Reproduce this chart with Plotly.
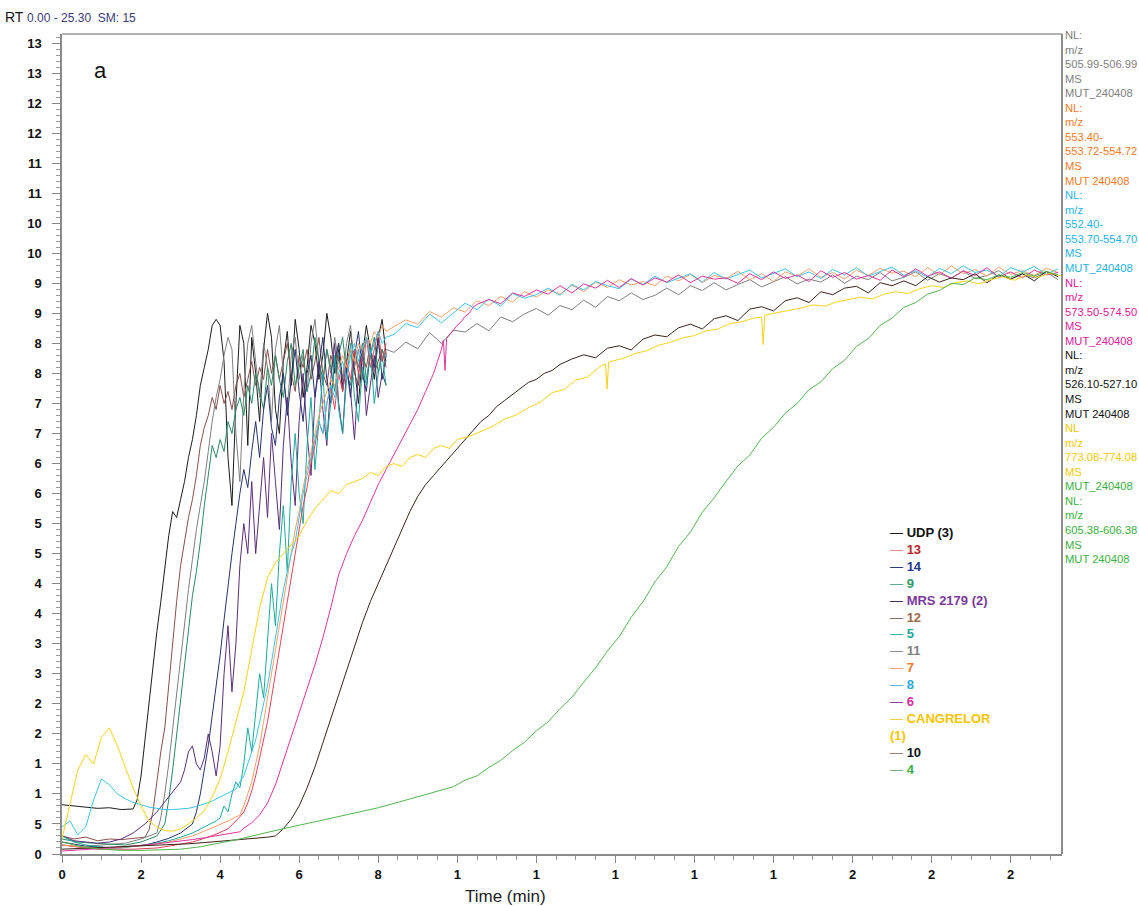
import plotly.graph_objects as go

# ---------------- data ----------------
# each series: list of segments (start_time, time_step, values)
udp_a = [8.2, 8.0, 7.9, 7.6, 7.7, 7.4, 7.5]
udp_b = [9, 13, 19, 26, 31, 37, 42, 48, 53, 57, 56, 59, 62, 66, 69, 73, 78, 81, 84, 88,
         89, 88, 82, 66, 58, 75, 88, 85, 68, 86, 80, 72, 84, 90, 86, 74, 70, 82, 87, 78,
         89, 84, 76, 81, 88, 85, 79, 83, 90, 86, 80, 84, 77, 82, 87, 81, 75, 83, 88, 84,
         79, 86, 89, 83]

c12_a = [3, 2.5, 2.8, 2.2, 2.5, 2.4, 2.6, 2.8]
c12_b = [4, 7, 12, 17, 21, 28, 36, 42, 48, 52, 56, 59, 63, 68, 71, 73, 76, 74, 78, 75,
         77, 74, 78, 80, 76, 79, 82, 78, 81, 79, 84, 80, 83, 79, 82, 85, 80, 77, 83, 81,
         84, 79, 82, 86, 80, 78, 83, 81, 85, 79, 82, 84, 80, 78, 83, 81, 85, 80, 82, 84, 81]

c11_a = [1.5, 1.2, 1.4, 1.6, 1.8, 2.5, 3.5]
c11_b = [6, 10, 15, 21, 27, 32, 38, 44, 49, 54, 58, 62, 67, 72, 76, 79, 83, 86, 84, 70,
         62, 77, 85, 88, 82, 76, 85, 81, 72, 84, 88, 80, 74, 83, 86, 79, 83, 77, 85, 89,
         82, 78, 84, 80, 86, 82, 79, 85, 88, 81, 84, 79, 86, 83, 80, 85, 82, 84]
c11_c = [83.5, 85.2, 84.1, 86.8, 85.0, 87.2, 86.9, 88.3, 87.1, 89.4,
         88.6, 89.9, 90.8, 89.7, 91.3, 90.6, 92.2, 91.0, 92.8, 92.1,
         93.4, 92.3, 93.0, 94.2, 93.1, 94.6, 93.8, 95.1, 93.9, 94.8,
         95.6, 94.4, 95.3, 96.1, 94.9, 95.7, 95.2, 96.4, 95.0, 96.2,
         95.6, 96.8, 95.4, 96.0, 96.9, 95.5, 96.6, 95.9, 97.0, 95.8,
         96.3, 97.1, 95.7, 96.5, 95.9, 96.9, 95.6]

c9_a = [2.5, 2.0, 1.8, 1.6, 1.5, 2.0, 3.0]
c9_b = [5, 9, 14, 20, 26, 32, 38, 43, 47, 52, 58, 63, 68, 66, 69, 67, 72, 70, 74, 76,
        73, 78, 75, 80, 77, 74, 81, 78, 83, 79, 76, 82, 85, 78, 81, 84, 77, 80, 86, 82,
        79, 84, 81, 77, 83, 86, 80, 78, 84, 81, 85, 79, 83, 86, 80, 84, 82]

mrs_a = [3, 2.2, 2.0, 1.8, 2.0, 2.5, 3.5, 5, 7, 9.5, 12]
mrs_b = [14, 17, 18, 15, 14, 16, 20, 17, 13, 18, 30, 38, 27, 35, 48, 55, 50, 62, 50, 58,
         66, 56, 70, 62, 54, 68, 76, 65, 58, 72, 80, 70, 63, 76, 82, 74, 68, 79, 85, 75,
         70, 81, 77, 69, 80, 84, 73, 78, 83, 76, 80, 78]

c14_a = [2.0, 1.6, 1.3, 1.2, 1.0, 1.1, 1.3, 1.5, 2.0, 2.6, 3.5, 5.0]
c14_b = [7, 10, 14, 18, 23, 28, 33, 39, 45, 50, 55, 60, 64, 61, 67, 72, 66, 74, 78, 71,
         68, 76, 80, 73, 79, 84, 77, 72, 80, 83, 76, 81, 86, 79, 75, 82, 85, 78, 81, 76,
         83, 87, 80, 77, 84, 81, 86, 79, 83]

c5_a = [3.0, 2.0, 1.5, 1.2, 1.0, 1.0, 1.2, 1.5, 1.8, 2.2, 2.8, 3.5, 4.5, 5.5]
c5_b = [6, 8, 7, 10, 12, 11, 15, 21, 17, 24, 30, 26, 36, 45, 38, 50, 58, 47, 62, 70,
        60, 55, 68, 76, 64, 72, 80, 69, 75, 83, 74, 70, 79, 85, 76, 72, 81, 78, 84, 75,
        80, 83, 78]

c13_a = [1.5, 1.2, 1.0, 0.8, 0.8, 0.7, 0.8, 0.9, 1.0, 1.3, 1.6, 2.0, 2.6, 3.3, 4.2]
c13_b = [4.8, 5.5, 6.2, 7.0, 8.5, 10.5, 13, 16, 19, 22, 26, 30, 34, 38, 42, 46, 50, 54,
         58, 61, 65, 68, 72, 70, 75, 78, 74, 80, 77, 82, 79, 84, 80, 83, 86, 81, 84, 87,
         82, 85]

c8_a = [4.5, 5.5, 3.2, 4.5, 9, 12.5, 11.5, 10, 9.2, 8.6, 8.2, 7.8, 7.6, 7.4, 7.4, 7.5,
        7.6, 7.9, 8.3, 8.8, 9.5, 10.2]
c8_b = [10.8, 12, 13, 15, 17, 19, 22, 25, 28, 32, 36, 40, 44, 47, 50, 52, 56, 60, 63,
        66, 69, 72, 70, 75, 78, 76, 80, 82, 79, 83, 85, 82, 84, 86, 83, 85, 87, 85, 86]
c8_c = [86.5, 88.3, 87.6, 89.9, 88.4, 90.1, 91.7, 90.6, 92.4, 91.2,
        93.3, 92.5, 93.1, 94.2, 93.0, 94.8, 93.9, 95.3, 94.6, 94.1,
        95.7, 94.8, 96.2, 95.1, 95.9, 96.6, 95.2, 96.8, 95.7, 96.4,
        97.2, 95.9, 96.7, 97.4, 96.1, 96.9, 95.8, 97.3, 96.4, 97.6,
        96.2, 96.9, 97.7, 96.3, 97.1, 96.0, 97.5, 96.6, 97.9, 96.8,
        97.2, 96.1, 97.6, 96.9, 97.8, 96.5, 97.4]

c7_a = [1.5, 1.3, 1.1, 1.0, 1.0, 1.1, 1.2, 1.4, 1.7, 2.0, 2.5, 3.0, 3.8, 4.6, 5.5, 6.5]
c7_b = [8, 10, 12, 15, 18, 22, 26, 30, 34, 38, 42, 46, 50, 54, 57, 61, 64, 67, 70, 73,
        75, 77, 79, 78, 81, 83, 81, 84, 82, 85, 84, 86, 85, 87, 86, 88, 87]
c7_c = [87.8, 88.9, 88.2, 90.3, 89.4, 90.9, 90.2, 92.1, 91.3, 92.8,
        91.9, 93.6, 92.7, 93.9, 93.2, 94.7, 93.6, 95.2, 94.3, 95.6,
        94.7, 95.3, 94.6, 96.2, 95.4, 96.5, 95.1, 96.3, 95.8, 97.0,
        95.6, 96.6, 95.3, 96.9, 96.2, 97.4, 96.0, 96.8, 95.7, 97.2,
        96.3, 97.5, 96.7, 97.0, 96.1, 97.6, 96.4, 97.9, 96.6, 97.3,
        96.2, 97.7, 96.5, 97.1, 96.3, 97.5, 96.8]

c6_a = [0.5, 0.6, 0.8, 0.9, 1.0, 1.2, 1.3, 1.5, 1.7, 1.9, 2.1, 2.4, 2.7, 3.0, 3.3, 3.7]
c6_b = [4.3, 5.2, 6.5, 8.5, 11.5, 15.5, 19.5, 23.5, 27.5, 31.5, 36, 41, 46.5, 50, 53,
        55.5, 58.5, 61.5, 64, 66.5, 69, 71.5, 74, 77, 80]
c6_c = [82, 84]
c6_spike = [85.5, 80.5, 85.8]
c6_d = [86.4, 87.2, 88, 88.6, 89.5, 90, 91, 91.5]
c6_e = [92.3, 91.6, 93.4, 92.8, 93.9, 93.2, 94.6, 93.4, 94.9, 94.2,
        95.5, 94.3, 95.8, 94.7, 95.9, 95.2, 96.4, 95.1, 96.2, 95.7,
        95.9, 95.0, 96.6, 95.6, 96.9, 95.8, 96.4, 95.3, 97.1, 96.0,
        96.8, 95.7, 96.3, 95.5, 97.2, 96.1, 97.4, 96.2, 96.9, 95.8,
        97.1, 96.3, 97.6, 96.0, 96.9, 95.9, 97.2, 96.4, 96.8]

c10_a = [0.8, 0.9, 1.0, 1.1, 1.2, 1.3, 1.4, 1.6, 1.7, 1.9, 2.1, 2.3, 2.5, 2.8]
c10_b = [3.0, 4.2, 5.8, 8.0, 11, 14.5, 18.5, 22.5, 26.5, 30.5, 34.5, 38.5, 42, 45, 48,
         51, 54, 57, 59.5, 61.5, 63, 64.5, 66, 67.5, 69, 70.5, 72, 73, 74.5, 75.5, 76.5,
         77.5, 78.5, 79, 80, 80.5, 81.5]
c10_c = [82.4, 83.1, 82.6, 84.2, 84.6, 83.9, 85.7, 86.4, 86.1, 87.6,
         88.2, 87.4, 89.1, 89.6, 88.8, 90.7, 91.1, 90.4, 92.1, 92.6,
         91.8, 93.6, 93.1, 94.2, 94.5, 93.4, 95.1, 94.6, 95.4, 94.6,
         96.1, 95.2, 95.9, 95.6, 96.6, 95.1, 96.4, 95.7, 96.6, 95.4,
         97.0, 96.1]

cang_a = [2.5, 8, 14, 16.5, 15, 19.5, 21, 18, 14.5, 11, 8, 5.5, 4.5, 3.9, 3.8, 4.2, 5.0,
          6.0, 7.2, 9.5, 12.5, 17, 22, 27, 34, 41, 46, 48.5, 50, 51.5, 53, 55.5, 57.5,
          59, 60.5, 60, 61.5, 62, 62.5, 63.5, 63, 64.5, 65, 64.5, 66, 66.5, 66, 67.5,
          68, 67.5, 69]
cang_b1 = [69.5, 70.3, 71.2, 72.4, 73.1, 74.3, 75.2, 76.8, 77.3, 78.9, 79.4, 81.1]
cang_spike1 = [81.6, 77.4, 81.9]
cang_b2 = [82.5, 83.3, 83.8, 84.7, 85.2, 85.9, 86.3, 87.1, 87.4, 88.3, 88.6, 89.2]
cang_spike2 = [89.4, 84.8, 89.7]
cang_b3 = [90.1, 90.6, 90.9, 91.4, 91.2, 91.9, 92.3, 92.7, 92.4, 93.2, 93.6, 93.3, 94.1,
           94.6, 94.3, 95.1, 95.4, 94.9, 95.6, 96.1, 95.5, 96.4, 96.0, 96.7, 96.2]

c4_a = [2.0, 1.2, 0.8, 0.6, 0.6, 0.7, 0.8, 1.2, 1.8, 2.5, 3.3, 4.1, 4.8, 5.5, 6.2, 7.0,
        7.7, 8.6, 9.5]
c4_b = [10.0, 10.6, 11.2, 12.3, 13.0, 14.4, 15.6, 17.2, 18.6, 20.5, 22.0, 24.2, 26.1,
        28.6, 31.0, 33.8, 36.2, 39.4, 42.0, 45.3, 47.8, 51.2, 53.6, 56.9, 59.3, 62.0,
        64.6, 66.4, 69.2, 71.0, 73.4, 75.0, 77.3, 78.6, 80.8, 82.2, 84.5, 85.8, 88.0,
        89.2, 91.0, 91.8, 93.2, 93.8, 95.0, 94.8, 95.9, 95.6, 96.4, 96.0, 96.8, 96.2,
        97.0, 96.4]

# name, line colour, segments
series = [
    ("UDP (3)", "#1c1c1c", [(0.0, 0.3, udp_a), (1.9, 0.1, udp_b)]),
    ("12", "#8a4f4a", [(0.0, 0.3, c12_a), (2.2, 0.1, c12_b)]),
    ("11", "#7f7f7f", [(0.0, 0.4, c11_a), (2.5, 0.1, c11_b), (8.4, 0.3, c11_c)]),
    ("9", "#2a8a63", [(0.0, 0.4, c9_a), (2.6, 0.1, c9_b)]),
    ("MRS 2179 (2)", "#5b2e7a", [(0.0, 0.3, mrs_a), (3.1, 0.1, mrs_b)]),
    ("14", "#27336e", [(0.0, 0.3, c14_a), (3.4, 0.1, c14_b)]),
    ("5", "#1eaa9b", [(0.0, 0.3, c5_a), (4.0, 0.1, c5_b)]),
    ("13", "#e0445c", [(0.0, 0.3, c13_a), (4.3, 0.1, c13_b)]),
    ("7", "#f4a06a", [(0.0, 0.3, c7_a), (4.6, 0.1, c7_b), (8.4, 0.3, c7_c)]),
    ("8", "#3fc3e6", [(0.0, 0.2, c8_a), (4.4, 0.1, c8_b), (8.4, 0.3, c8_c)]),
    ("6", "#e0359d", [(0.0, 0.3, c6_a), (4.6, 0.2, c6_b), (9.5, 0.1, c6_c),
                      (9.65, 0.04, c6_spike), (9.8, 0.1, c6_d), (10.8, 0.3, c6_e)]),
    ("10", "#3a2418", [(0.0, 0.4, c10_a), (5.4, 0.2, c10_b), (12.9, 0.3, c10_c)]),
    ("CANGRELOR (1)", "#f7d21c", [(0.0, 0.2, cang_a), (10.3, 0.3, cang_b1),
                                  (13.75, 0.04, cang_spike1), (14.2, 0.3, cang_b2),
                                  (17.7, 0.04, cang_spike2), (18.1, 0.3, cang_b3)]),
    ("4", "#52b64e", [(0.0, 0.5, c4_a), (9.3, 0.3, c4_b)]),
]

# legend rows: label, dash colour, text colour
legend_rows = [
    ("UDP (3)", "#1a1a1a", "#111111"),
    ("13", "#e88a8a", "#b3262b"),
    ("14", "#2b3a7a", "#243a8c"),
    ("9", "#5aaa90", "#2e9b6a"),
    ("MRS 2179 (2)", "#4b2a5a", "#7a3a9c"),
    ("12", "#8b7060", "#9a6a4a"),
    ("5", "#30b8a8", "#1aa99a"),
    ("11", "#909090", "#808080"),
    ("7", "#f0a080", "#f07a2a"),
    ("8", "#60b8d8", "#2aa8dc"),
    ("6", "#8a40a0", "#d42d9b"),
    ("CANGRELOR<br>(1)", "#f5d040", "#f5c500"),
    ("10", "#a08070", "#111111"),
    ("4", "#7ab07a", "#3cb043"),
]

# right-side channel notes: (lines, colour)
side_notes = [
    (["NL:", "m/z", "505.99-506.99", "MS", "MUT_240408"], "#808080"),
    (["NL:", "m/z", "553.40-", "553.72-554.72", "MS", "MUT 240408"], "#f07c1e"),
    (["NL:", "m/z", "552.40-", "553.70-554.70", "MS", "MUT_240408"], "#1eb4e6"),
    (["NL:", "m/z", "573.50-574.50", "MS", "MUT_240408"], "#e0209a"),
    (["NL:", "m/z", "526.10-527.10", "MS", "MUT 240408"], "#111111"),
    (["NL", "m/z", "773.08-774.08", "MS"], "#f5c800"),
    (["MUT_240408"], "#3cb043"),
    (["NL:", "m/z", "605.38-606.38", "MS", "MUT 240408"], "#3cb043"),
]

x_tickvals = [0, 2, 4, 6, 8, 10, 12, 14, 16, 18, 20, 22, 24]
x_ticktext = ["0", "2", "4", "6", "8", "1", "1", "1", "1", "1", "2", "2", "2"]
y_tickvals = list(range(0, 136, 5))
y_ticktext = ["0", "5", "1", "1", "2", "2", "3", "3", "4", "4", "5", "5", "6", "6",
              "7", "7", "8", "8", "9", "9", "10", "10", "11", "11", "12", "12", "13", "13"]

# ---------------- figure ----------------
FONT = "Arial, Liberation Sans, sans-serif"
fig = go.Figure()

for name, color, segs in series:
    xs, ys = [], []
    for start, step, vals in segs:
        for i, v in enumerate(vals):
            xs.append(round(start + step * i, 3))
            ys.append(v)
    fig.add_trace(go.Scatter(x=xs, y=ys, mode="lines", name=name,
                             line=dict(color=color, width=1), showlegend=False))

fig.update_layout(
    width=1139, height=906,
    margin=dict(l=62, r=77, t=34, b=52),
    paper_bgcolor="white", plot_bgcolor="white",
    font=dict(family=FONT, color="#111"),
    showlegend=False,
)

fig.update_xaxes(
    range=[0, 25.3], tickvals=x_tickvals, ticktext=x_ticktext,
    ticks="outside", ticklen=7, tickcolor="#888", tickwidth=1,
    showline=True, linecolor="#8a8a8a", linewidth=2, showgrid=False, zeroline=False,
    tickfont=dict(family=FONT, size=13, color="#111", weight="bold"),
    minor=dict(dtick=0.5, ticks="outside", ticklen=4, tickcolor="#999", tickwidth=1),
)
fig.update_yaxes(
    range=[0, 136.5], tickvals=y_tickvals, ticktext=y_ticktext,
    ticks="outside", ticklen=8, tickcolor="#888", tickwidth=1,
    showline=True, linecolor="#8a8a8a", linewidth=1.5, showgrid=False, zeroline=False,
    tickfont=dict(family=FONT, size=13, color="#111", weight="bold"),
    ticklabelstandoff=8,
    minor=dict(dtick=1, ticks="outside", ticklen=4, tickcolor="#999", tickwidth=1),
)

# frame top and right
fig.add_shape(type="line", xref="paper", yref="paper", x0=0, x1=1, y0=1, y1=1,
              line=dict(color="#666", width=1))
fig.add_shape(type="line", xref="paper", yref="paper", x0=1, x1=1, y0=0, y1=1,
              line=dict(color="#666", width=1.5))

# legend as text block
rows = []
for label, dash_c, text_c in legend_rows:
    if "<br>" in label:
        a, b = label.split("<br>")
        rows.append(f'<span style="color:{dash_c}">—</span> '
                    f'<span style="color:{text_c}"><b>{a}</b></span>')
        rows.append(f'<span style="color:{text_c}"><b>{b}</b></span>')
    else:
        rows.append(f'<span style="color:{dash_c}">—</span> '
                    f'<span style="color:{text_c}"><b>{label}</b></span>')
fig.add_annotation(xref="paper", yref="paper", x=0.826, y=0.404, xanchor="left",
                   yanchor="top", align="left", showarrow=False,
                   text="<br>".join(rows), font=dict(family=FONT, size=13))

# right-side notes
lines = []
for block, col in side_notes:
    for ln in block:
        lines.append(f'<span style="color:{col}">{ln}</span>')
fig.add_annotation(xref="paper", yref="paper", x=1.001, y=1.009, xanchor="left",
                   yanchor="top", align="left", showarrow=False,
                   text="<br>".join(lines), font=dict(family=FONT, size=11.2))

# header
fig.add_annotation(xref="paper", yref="paper", x=-0.059, y=1.021, xanchor="left",
                   yanchor="middle", showarrow=False, align="left",
                   text='RT <span style="color:#3c3c7a;font-size:12px">0.00 - 25.30&nbsp;&nbsp;SM: 15</span>',
                   font=dict(family=FONT, size=14, color="#111"))
# panel letter
fig.add_annotation(xref="paper", yref="paper", x=0.038, y=0.956, xanchor="center",
                   yanchor="middle", showarrow=False, text="a",
                   font=dict(family=FONT, size=22, color="#111"))
# x title
fig.add_annotation(xref="paper", yref="paper", x=0.443, y=-0.052, xanchor="center",
                   yanchor="middle", showarrow=False, text="Time (min)",
                   font=dict(family=FONT, size=17, color="#222"))

fig.write_html("out.html")
